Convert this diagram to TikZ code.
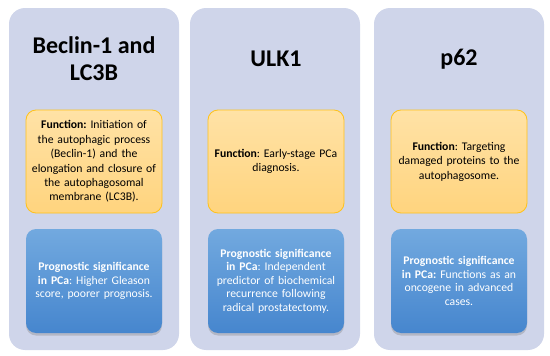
\documentclass[tikz,border=0pt]{standalone}
\usepackage{fontspec}
\setmainfont{Carlito}
\usetikzlibrary{positioning,shadows}
\definecolor{panelfill}{HTML}{CFD5EA}
\definecolor{functop}{HTML}{FFE2A6}
\definecolor{funcbot}{HTML}{FFD47E}
\definecolor{funcline}{HTML}{FFC21A}
\definecolor{progtop}{HTML}{72A9DF}
\definecolor{progbot}{HTML}{4686CE}
\frenchspacing

\begin{document}
\begin{tikzpicture}[x=1pt,y=-1pt,
  panel/.style={fill=panelfill,rounded corners=16pt,minimum width=170pt,minimum height=342pt,inner sep=0pt},
  heading/.style={font=\fontsize{24}{27}\selectfont\bfseries,align=center},
  funcbox/.style={draw=funcline,line width=0.8pt,top color=functop,bottom color=funcbot,rounded corners=10pt,
    minimum width=136pt,minimum height=103pt,text width=130pt,align=center,inner sep=0pt,
    font=\fontsize{11.7}{14.4}\selectfont},
  progbox/.style={top color=progtop,bottom color=progbot,rounded corners=10pt,
    minimum width=136pt,minimum height=104pt,text width=130pt,align=center,inner sep=0pt,
    text=white,font=\fontsize{11.7}{13.5}\selectfont,
    drop shadow={shadow xshift=0pt,shadow yshift=-2.5pt,opacity=0.35}}]
  \useasboundingbox (0,0) rectangle (550,356);
  % Spalten
  \def\ya{59}\def\yb{161.5}\def\yc{281}
  \node[panel] (pbec) at (94,179) {};
  \node[panel] (pulk) at (275,179) {};
  \node[panel] (pp62) at (459,179) {};
  % Titel
  \node[heading] (tbec) at (94,\ya) {Beclin-1 and\\LC3B};
  \node[heading] (tulk) at (276,\ya) {ULK1};
  \node[heading] (tp62) at (459,\ya) {p62};
  % Funktion
  \node[funcbox] (fbec) at (94,\yb) {\textbf{Function:} Initiation of\\the autophagic process\\(Beclin-1) and the\\elongation and closure of\\the autophagosomal\\membrane (LC3B).};
  \node[funcbox] (fulk) at (276,\yb) {\textbf{Function}: Early-stage PCa\\diagnosis.};
  \node[funcbox] (fp62) at (459,\yb) {\textbf{Function}: Targeting\\damaged proteins to the\\autophagosome.};
  % Prognose
  \node[progbox] (sbec) at (94,\yc) {\textbf{Prognostic significance}\\\textbf{in PCa}: Higher Gleason\\score, poorer prognosis.};
  \node[progbox] (sulk) at (276,\yc) {\textbf{Prognostic significance}\\\textbf{in PCa}: Independent\\predictor of biochemical\\recurrence following\\radical prostatectomy.};
  \node[progbox] (sp62) at (459,\yc) {\textbf{Prognostic significance}\\\textbf{in PCa:} Functions as an\\oncogene in advanced\\cases.};
\end{tikzpicture}
\end{document}
